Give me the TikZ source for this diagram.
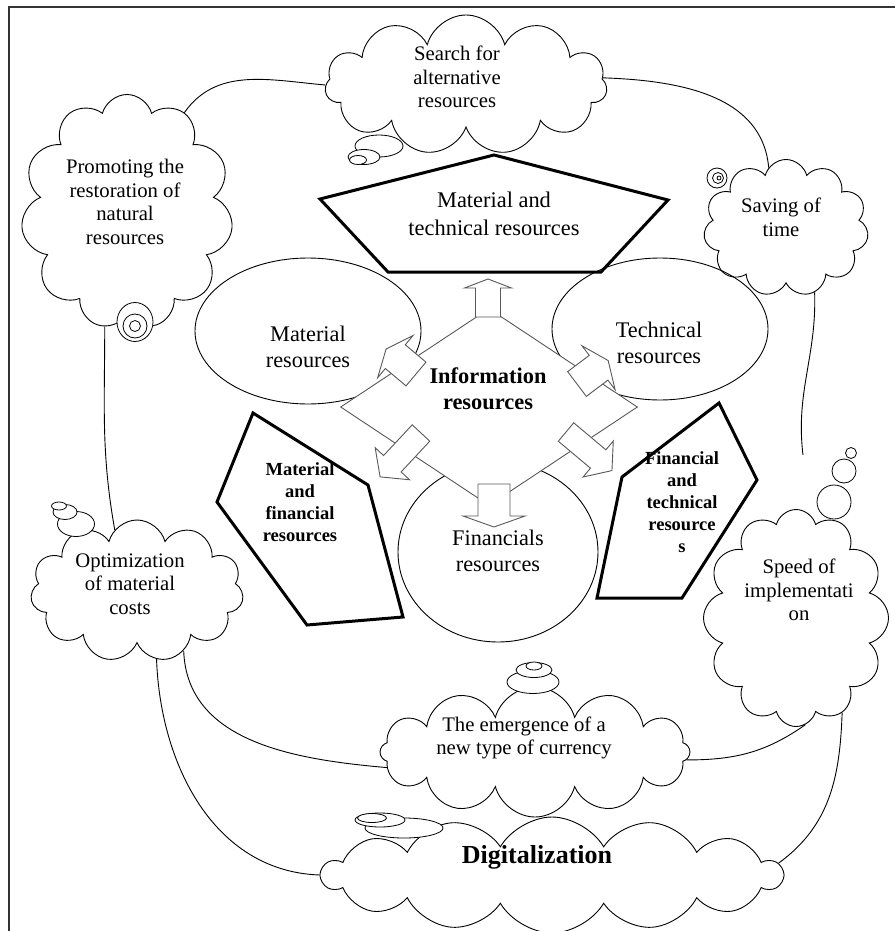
\documentclass[tikz,border=0pt]{standalone}
\usepackage{fontspec}
\setmainfont{Liberation Serif}
\usetikzlibrary{shapes.geometric,shapes.symbols}

\newcommand{\blockarrow}[4]{%
    \draw[arrowline] (0,-#2) -- (#1,-#2) -- (#1,-#3) -- (#4,0) -- (#1,#3) -- (#1,#2) -- (0,#2) -- cycle;
}

\begin{document}
\begin{tikzpicture}[x=1pt, y=1pt,
    puff/.style={cloud, cloud puffs=11, cloud ignores aspect, draw, line width=0.9pt},
    cloudtext/.style={align=center, font=\fontsize{20.7}{23.7}\selectfont},
    oval/.style={ellipse, draw, line width=0.9pt},
    ovaltext/.style={align=center, font=\fontsize{22.3}{26.5}\selectfont},
    penta/.style={line width=3pt, line join=miter},
    pentatext/.style={align=center, font=\bfseries\fontsize{18.5}{22}\selectfont},
    bubble/.style={draw, fill=white, line width=0.8pt},
    link/.style={line width=0.9pt},
    arrowline/.style={draw=black!65, fill=white, line width=0.9pt}]

    \useasboundingbox (0,0) rectangle (894,-931);
    % Frame round the picture
    \draw[black!80, line width=1.2pt] (9,-940) -- (9,-7) -- (900,-7);

    % Clouds
    \node[puff, minimum width=282pt, minimum height=140pt] (search) at (466,-85) {};
    \node[puff, minimum width=212pt, minimum height=235pt] (promote) at (127,-212) {};
    \node[puff, minimum width=165pt, minimum height=137pt] (saving) at (786,-228) {};
    \node[puff, minimum width=213pt, minimum height=142pt] (optim) at (137,-591) {};
    \node[puff, minimum width=185pt, minimum height=217pt, cloud puffs=12] (speed) at (796,-618) {};
    \node[puff, minimum width=310pt, minimum height=130pt, cloud puffs=12] (emerge) at (535,-752) {};
    \node[puff, minimum width=460pt, minimum height=116pt, cloud puffs=14, cloud puff arc=120] (digital) at (552,-875) {};

    % Bubbles of the clouds
    \draw[bubble] (379,-146) ellipse [x radius=24, y radius=11];
    \draw[bubble] (364,-157) ellipse [x radius=16, y radius=7.5];
    \draw[bubble] (358,-160) ellipse [x radius=8.5, y radius=4.5];
    \draw[bubble] (135,-322) ellipse [x radius=18, y radius=19.5];
    \draw[bubble] (135,-326) circle [radius=12];
    \draw[bubble] (135,-326) circle [radius=5.5];
    \draw[bubble] (717,-178) circle [radius=10];
    \draw[bubble] (718,-178) circle [radius=5.5];
    \draw[bubble] (719,-178) circle [radius=2];
    \draw[bubble] (76,-524) ellipse [x radius=18.5, y radius=12.5];
    \draw[bubble] (65,-512) ellipse [x radius=12, y radius=7.5];
    \draw[bubble] (59,-506) ellipse [x radius=7.5, y radius=4];
    \draw[bubble] (834,-502) circle [radius=17];
    \draw[bubble] (844,-471) circle [radius=12];
    \draw[bubble] (851,-453) circle [radius=5.5];
    \draw[bubble] (533,-682) ellipse [x radius=26, y radius=11.5];
    \draw[bubble] (534,-670) ellipse [x radius=18, y radius=7.5];
    \draw[bubble] (534,-666) ellipse [x radius=8, y radius=4];
    \draw[bubble] (404,-828) ellipse [x radius=39, y radius=10];
    \draw[bubble] (380,-820) ellipse [x radius=25, y radius=7];
    \draw[bubble] (372,-818) ellipse [x radius=14.5, y radius=4.5];

    % Lines between the clouds
    \coordinate (speedtail) at (803,-455);
    \draw[link] (promote.60) to[out=55, in=175] (search.180);
    \draw[link] (search.3) to[out=-2, in=95] (saving.106);
    \draw[link] (saving.-66) to[out=-88, in=97] (speedtail);
    \draw[link] (promote.-101) to[out=-90, in=100] (optim.110);
    \draw[link] (optim.-52) to[out=-88, in=175] (emerge.-174);
    \draw[link] (optim.-74) to[out=-88, in=178] (digital.180);
    \draw[link] (emerge.-3) to[out=0, in=-145] (speed.-85);
    \draw[link] (speed.-64) to[out=-92, in=36] (digital.3);

    % Resources round the centre
    \node[oval, minimum width=226pt, minimum height=146pt] (matres) at (308,-331) {};
    \node[oval, minimum width=216pt, minimum height=142pt] (techres) at (660,-329) {};
    \node[oval, minimum width=200pt, minimum height=180pt] (finres) at (498,-552) {};

    % Pentagons
    \draw[penta] (320,-199) -- (494,-155) -- (668,-200) -- (601,-272) -- (388,-272) -- cycle;
    \draw[penta] (253,-413) -- (368,-485) -- (403,-617) -- (307,-625) -- (217,-502) -- cycle;
    \draw[penta] (719,-403) -- (757,-480) -- (682,-598) -- (597,-598) -- (622,-477) -- cycle;

    % Information resources and its arrows
    \node[diamond, draw=black!65, fill=white, line width=0.9pt, inner sep=0pt,
        minimum width=297pt, minimum height=197pt] (info) at (489,-407) {};
    \foreach \dx/\dy/\ang/\len/\wid/\hwid/\tip in {-73/33/140/27/15.5/27.5/39, 88/23/37/27/15.5/27.5/39,
        -68/-26/-133/42/12/23.5/60, 77/-25/-40/42/12/23.5/60, -1/90/90/29/12.5/23.5/38, 5/-77/-90/32/16/31/43} {
    \begin{scope}[shift={(info.center)}, shift={(\dx,\dy)}, rotate=\ang]
        \blockarrow{\len}{\wid}{\hwid}{\tip}
    \end{scope}
    }

    % Texts
    \node[cloudtext] (searchtext) at (457,-77) {Search for\\alternative\\resources};
    \node[cloudtext] (promotetext) at (125,-202) {Promoting the\\restoration of\\natural\\resources};
    \node[cloudtext] (savingtext) at (781,-217) {Saving of\\time};
    \node[cloudtext] (optimtext) at (130,-584) {Optimization\\of material\\costs};
    \node[cloudtext] (speedtext) at (799,-590) {Speed of\\implementati\\on};
    \node[cloudtext] (emergetext) at (524,-738) {The emergence of a\\new type of currency};
    \node[font=\bfseries\fontsize{26}{30}\selectfont] (digitaltext) at (537,-857) {Digitalization};
    \node[ovaltext] (matrestext) at (308,-347) {Material\\resources};
    \node[ovaltext] (techrestext) at (659,-343) {Technical\\resources};
    \node[ovaltext] (finrestext) at (498,-551) {Financials\\resources};
    \node[ovaltext, font=\fontsize{22.4}{27.5}\selectfont] (mattechtext) at (494,-214) {Material and\\technical resources};
    \node[pentatext] (matfintext) at (300,-502) {Material\\and\\financial\\resources};
    \node[pentatext] (fintechtext) at (682,-502) {Financial\\and\\technical\\resource\\s};
    \node[align=center, font=\bfseries\fontsize{22.4}{25.7}\selectfont] (infotext) at (488,-389) {Information\\resources};
\end{tikzpicture}
\end{document}
